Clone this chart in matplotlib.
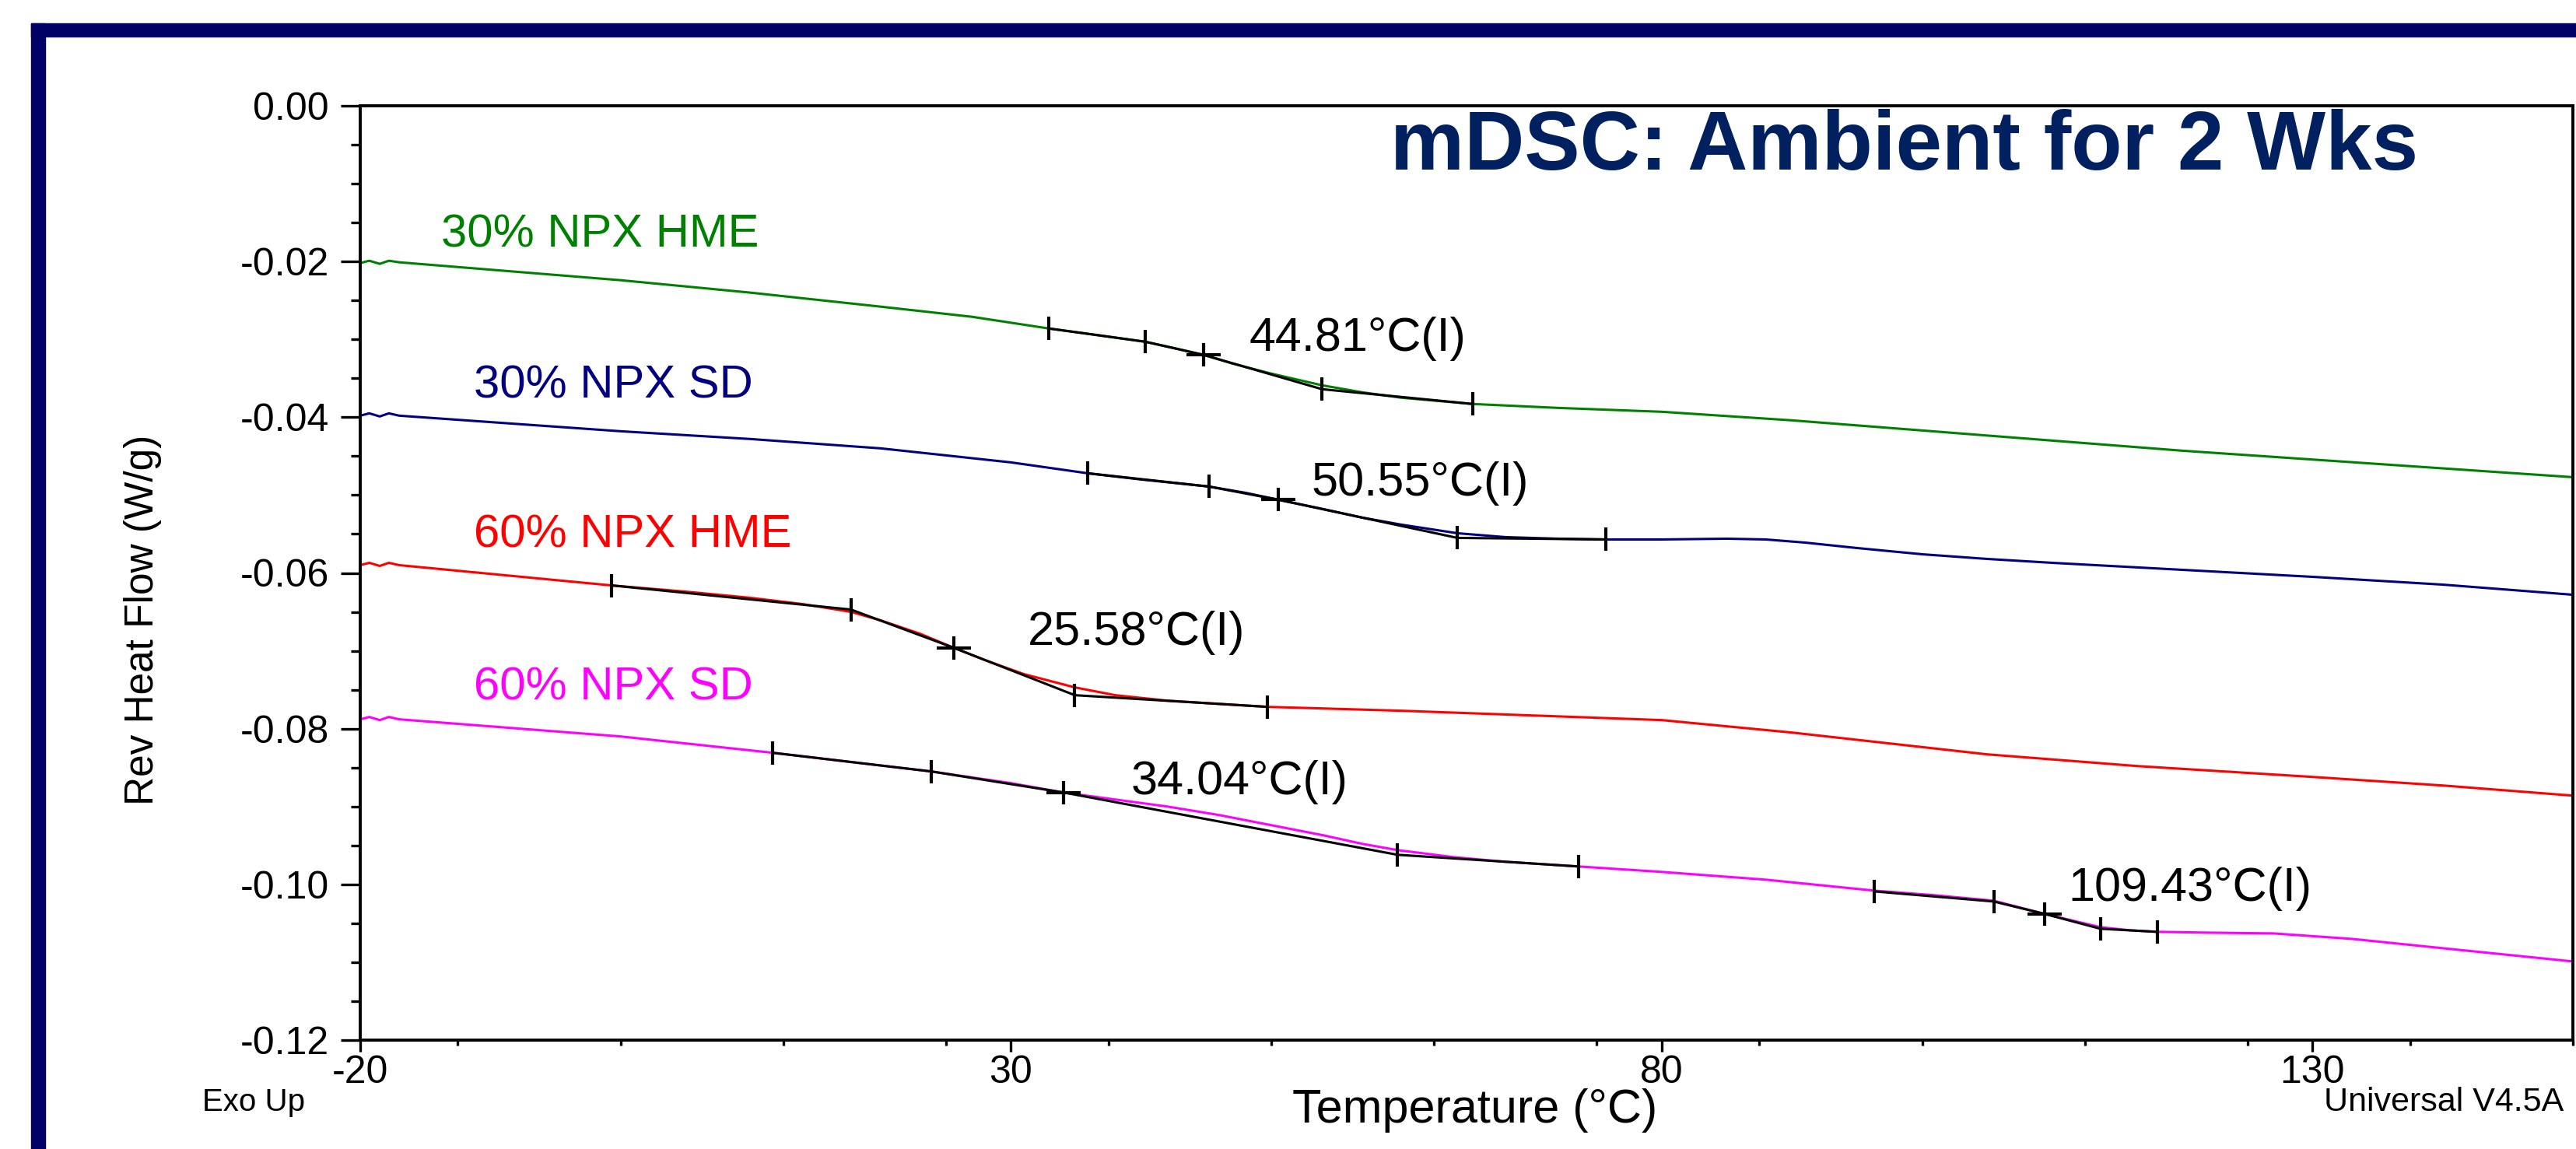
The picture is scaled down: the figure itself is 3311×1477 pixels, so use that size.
import matplotlib
matplotlib.use("Agg")
import matplotlib.pyplot as plt
from matplotlib.patches import Rectangle
from matplotlib.ticker import MultipleLocator

plt.rcParams['font.family'] = ['Liberation Sans', 'DejaVu Sans']

# ---- data ----
series_names = ["30% NPX HME", "30% NPX SD", "60% NPX HME", "60% NPX SD"]

hme30_t = [-20, -19.3, -18.5, -17.8, -17, 0, 10, 20, 27, 32.9, 36, 40.3, 42.5, 44.81, 47, 50, 53.9,
           57, 60, 65.5, 72, 80, 90, 100, 110, 120, 135, 150]
hme30_v = [-0.0202, -0.0199, -0.0203, -0.0199, -0.0201, -0.0224, -0.0240, -0.0258, -0.0271, -0.0286,
           -0.0293, -0.0303, -0.0311, -0.0320, -0.0331, -0.0344, -0.0359, -0.0368, -0.0375, -0.0383,
           -0.0388, -0.0393, -0.0404, -0.0417, -0.0430, -0.0443, -0.0460, -0.0477]

sd30_t = [-20, -19.3, -18.5, -17.8, -17, 0, 10, 20, 30, 35.9, 40, 45.2, 48, 50.55, 54, 57, 60, 64.3,
          68, 72, 75.7, 80, 85, 88, 91, 95, 100, 105, 110, 120, 130, 140, 150]
sd30_v = [-0.0398, -0.0395, -0.0399, -0.0395, -0.0398, -0.0418, -0.0428, -0.0440, -0.0458, -0.0472,
          -0.0480, -0.0489, -0.0497, -0.0506, -0.0518, -0.0529, -0.0538, -0.0549, -0.0554, -0.0556,
          -0.0557, -0.0557, -0.0556, -0.0557, -0.0561, -0.0568, -0.0576, -0.0582, -0.0587, -0.0596,
          -0.0605, -0.0615, -0.0628]

hme60_t = [-20, -19.3, -18.5, -17.8, -17, -0.7, 5, 10, 14, 17.7, 20, 23, 25.58, 28, 31, 34.9, 38,
           42, 49.7, 60, 70, 80, 90, 97.5, 105, 116.5, 130, 140, 150]
hme60_v = [-0.0590, -0.0587, -0.0591, -0.0587, -0.0590, -0.0616, -0.0624, -0.0632, -0.0640, -0.0650,
           -0.0661, -0.0678, -0.0696, -0.0712, -0.0730, -0.0747, -0.0757, -0.0764, -0.0772, -0.0777,
           -0.0783, -0.0789, -0.0805, -0.0819, -0.0833, -0.0848, -0.0862, -0.0873, -0.0886]

sd60_t = [-20, -19.3, -18.5, -17.8, -17, 0, 11.7, 23.9, 30, 34.04, 38, 42, 46, 50, 54, 57, 59.7,
          64, 68, 73.6, 80, 88, 96.3, 101, 105.5, 109.43, 113.7, 116, 118.1, 122, 127, 133, 140, 150]
sd60_v = [-0.0788, -0.0785, -0.0789, -0.0785, -0.0788, -0.0810, -0.0831, -0.0855, -0.0870, -0.0882,
          -0.0891, -0.0900, -0.0911, -0.0924, -0.0937, -0.0948, -0.0956, -0.0965, -0.0971, -0.0977,
          -0.0984, -0.0994, -0.1008, -0.1014, -0.1021, -0.1038, -0.1055, -0.1059, -0.1061, -0.1062,
          -0.1063, -0.1070, -0.1082, -0.1099]

# glass transition analysis: tangent points with the inflection in the middle
gt_t = [
    [32.9, 40.3, 44.81, 53.9, 65.5],
    [35.9, 45.2, 50.55, 64.3, 75.7],
    [-0.7, 17.7, 25.58, 34.9, 49.7],
    [11.7, 23.9, 34.04, 59.7, 73.6],
    [96.3, 105.5, 109.43, 113.7, 118.1],
]
gt_v = [
    [-0.0286, -0.0303, -0.0320, -0.0364, -0.0383],
    [-0.0472, -0.0489, -0.0506, -0.0555, -0.0557],
    [-0.0616, -0.0647, -0.0696, -0.0757, -0.0772],
    [-0.0831, -0.0855, -0.0882, -0.0962, -0.0977],
    [-0.1009, -0.1022, -0.1038, -0.1057, -0.1061],
]
gt_labels = ["44.81°C(I)", "50.55°C(I)", "25.58°C(I)", "34.04°C(I)", "109.43°C(I)"]

xticks = [-20, 30, 80, 130]
yticks = [0.00, -0.02, -0.04, -0.06, -0.08, -0.10, -0.12]

# ---- figure ----
W, H = 3311, 1477
fig = plt.figure(figsize=(W / 100, H / 100), dpi=100)
fig.patch.set_facecolor('white')

# navy slide frame (top and left bands)
navy = '#000066'
fig.patches.append(Rectangle((40 / W, 0), 18 / W, 1 - 30 / H, transform=fig.transFigure,
                             color=navy, zorder=0))
fig.patches.append(Rectangle((40 / W, 1 - 47 / H), 1 - 40 / W, 17 / H, transform=fig.transFigure,
                             color=navy, zorder=0))

ax = fig.add_axes([463 / W, 1 - 1337 / H, (3307 - 463) / W, (1337 - 136) / H])

colors = ['#008000', '#000080', '#ff0000', '#ff00ff']
curves = [(hme30_t, hme30_v), (sd30_t, sd30_v), (hme60_t, hme60_v), (sd60_t, sd60_v)]
for (t, v), c in zip(curves, colors):
    ax.plot(t, v, color=c, lw=2.2, zorder=2, solid_joinstyle='round')

for t, v in zip(gt_t, gt_v):
    ax.plot(t, v, color='black', lw=2.2, zorder=3)
    tk_t = [t[0], t[1], t[3], t[4]]
    tk_v = [v[0], v[1], v[3], v[4]]
    ax.plot(tk_t, tk_v, ls='none', marker='|', ms=22, mew=3, color='black', zorder=4)
    ax.plot([t[2]], [v[2]], ls='none', marker='|', ms=22, mew=3, color='black', zorder=4)
    ax.plot([t[2]], [v[2]], ls='none', marker='_', ms=31, mew=3, color='black', zorder=4)

# annotations
gt_label_pos = [(48.3, -0.0299), (53.1, -0.0485), (31.3, -0.0677), (39.2, -0.0869), (111.2, -0.1006)]
for (x, y), s in zip(gt_label_pos, gt_labels):
    ax.text(x, y, s, fontsize=44, va='center', ha='left', color='black')

name_pos = [(-13.8, -0.0166), (-11.3, -0.0360), (-11.3, -0.0552), (-11.3, -0.0747)]
for (x, y), s, c in zip(name_pos, series_names, colors):
    ax.text(x, y, s, fontsize=43, va='center', ha='left', color=c)

ax.text(0.930, 0.955, "mDSC: Ambient for 2 Wks", transform=ax.transAxes, fontsize=77,
        fontweight='bold', color='#00205f', ha='right', va='center')

ax.set_xlim(-20, 150)
ax.set_ylim(-0.12, 0.0)
ax.set_xticks(xticks)
ax.set_xticklabels([str(x) for x in xticks])
ax.set_yticks(yticks)
ax.set_yticklabels([f"{y:.2f}" for y in yticks])
ax.xaxis.set_minor_locator(MultipleLocator(12.5))
ax.yaxis.set_minor_locator(MultipleLocator(0.005))
ax.tick_params(axis='y', which='major', direction='out', length=18, width=2.4, labelsize=36, pad=11)
ax.tick_params(axis='y', which='minor', direction='out', length=8.5, width=2.4)
ax.tick_params(axis='x', which='major', direction='out', length=11, width=2.4, labelsize=36, pad=3)
ax.tick_params(axis='x', which='minor', direction='out', length=5, width=2.4)
for sp in ax.spines.values():
    sp.set_linewidth(2.8)

fig.text(184 / W, 1 - 797 / H, "Rev Heat Flow (W/g)", rotation=90, fontsize=37,
         ha='center', va='center')
fig.text(1896 / W, 1 - 1428 / H, "Temperature (°C)", fontsize=44, ha='center', va='center')
fig.text(260 / W, 1 - 1417 / H, "Exo Up", fontsize=29, ha='left', va='center')
fig.text(3295 / W, 1 - 1417 / H, "Universal V4.5A", fontsize=31, ha='right', va='center')

fig.savefig("out.png", dpi=100)
